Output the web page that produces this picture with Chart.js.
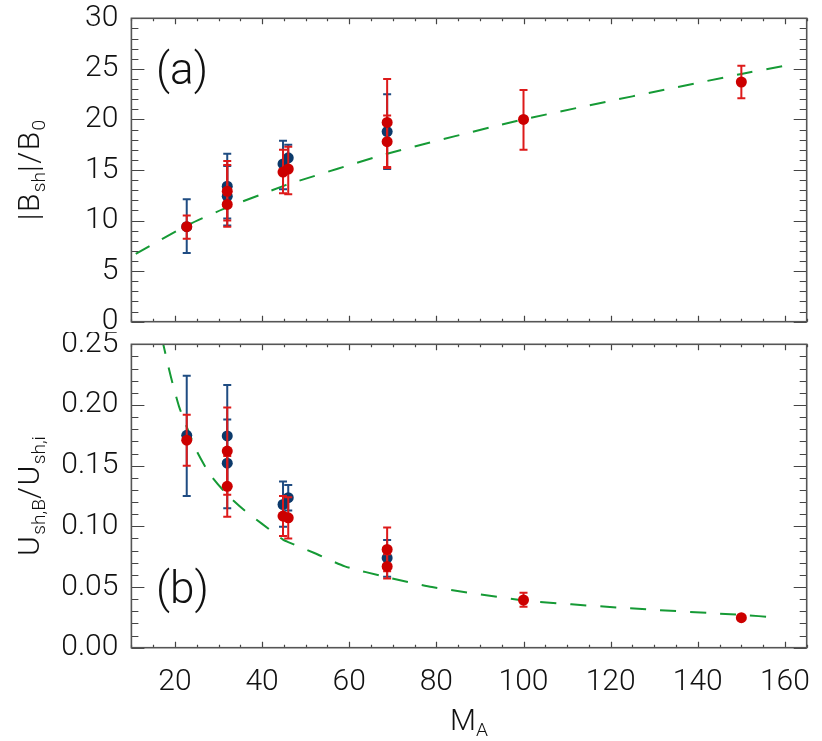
<!DOCTYPE html>
<html>
<head>
<meta charset="UTF-8">
<title>B_sh and U_sh vs M_A</title>
<script src="https://cdn.jsdelivr.net/npm/chart.js"></script>
<style>
  body { margin: 0; background: #fff; }
  #wrap { position: relative; width: 822px; height: 741px; }
  canvas { position: absolute; left: 0; }
  .txt {
    position: absolute;
    font-family: Roboto, 'DejaVu Sans', sans-serif;
    font-weight: 300;
    color: #111;
    white-space: nowrap;
    line-height: 1;
  }
  .txt sub { font-size: 0.64em; vertical-align: -0.3em; letter-spacing: 0; }
  .ytitle { font-size: 30px; letter-spacing: 1.5px; transform: translate(-50%, -50%) rotate(-90deg); }
  .panel { font-size: 44px; transform: translateY(-50%); }
</style>
</head>
<body>
<div id="wrap">
  <canvas id="topChart" width="822" height="332" style="top:0"></canvas>
  <canvas id="botChart" width="822" height="409" style="top:332px"></canvas>
  <div class="txt panel" style="left:156px; top:69px">(a)</div>
  <div class="txt panel" style="left:156px; top:588px">(b)</div>
  <div class="txt ytitle" style="left:31px; top:170px">|B<sub>sh</sub>|/B<sub>0</sub></div>
  <div class="txt ytitle" style="left:31px; top:496px">U<sub>sh,B</sub>/U<sub>sh,i</sub></div>
  <div class="txt" style="left:469px; top:722px; font-size:30px; transform:translate(-50%,-50%)">M<sub>A</sub></div>
</div>
<script>
// x axis (shared)
const xTicks = [20, 40, 60, 80, 100, 120, 140, 160];

// panel (a): |B_sh|/B_0
const topTicks = [0, 5, 10, 15, 20, 25, 30];
const topBlueX  = [22.7, 32.0, 32.0, 44.8, 46.0, 68.7];
const topBlueY  = [9.4, 13.4, 12.4, 15.6, 16.2, 18.8];
const topBlueLo = [6.8, 10.2, 9.5, 13.1, 14.9, 15.1];
const topBlueHi = [12.1, 16.6, 15.4, 17.9, 17.5, 22.5];
const topRedX  = [22.7, 32.0, 32.0, 44.8, 46.0, 68.7, 68.7, 100, 150];
const topRedY  = [9.4, 12.9, 11.6, 14.8, 15.1, 19.7, 17.8, 20.0, 23.7];
const topRedLo = [8.2, 10.0, 9.4, 12.7, 12.6, 15.3, 15.2, 17.0, 22.1];
const topRedHi = [10.5, 15.9, 15.5, 17.0, 17.3, 24.0, 20.4, 22.9, 25.3];
const topFitX = [11, 22.7, 32, 44.8, 46, 68.7, 100, 150, 160];
const topFitY = [6.7, 9.5, 11.3, 13.4, 13.6, 16.6, 20.0, 24.5, 25.3];

// panel (b): U_sh,B/U_sh,i
const botTicks  = [0, 0.05, 0.10, 0.15, 0.20, 0.25];
const botLabels = ['0.00', '0.05', '0.10', '0.15', '0.20', '0.25'];
const botBlueX  = [22.7, 32.0, 32.0, 44.8, 46.0, 68.7];
const botBlueY  = [0.175, 0.1745, 0.152, 0.118, 0.1236, 0.074];
const botBlueLo = [0.125, 0.132, 0.115, 0.0997, 0.113, 0.0585];
const botBlueHi = [0.224, 0.2165, 0.188, 0.137, 0.134, 0.0887];
const botRedX  = [22.7, 32.0, 32.0, 44.8, 46.0, 68.7, 68.7, 100, 150];
const botRedY  = [0.171, 0.162, 0.133, 0.1085, 0.107, 0.081, 0.067, 0.0393, 0.0247];
const botRedLo = [0.150, 0.126, 0.108, 0.092, 0.090, 0.063, 0.057, 0.0338, 0.0235];
const botRedHi = [0.192, 0.198, 0.158, 0.125, 0.124, 0.099, 0.077, 0.0453, 0.026];
const botFitX = [17, 19, 21, 22.7, 25, 28, 32, 36, 40, 44.8, 46, 52, 59, 68.7, 79, 100, 122, 150, 158];
const botFitY = [0.255, 0.224, 0.198, 0.182, 0.162, 0.143, 0.126, 0.113, 0.102, 0.089, 0.087, 0.078, 0.067, 0.058, 0.050, 0.039, 0.033, 0.027, 0.025];

const RED = '#cc0000', RED_ERR = '#dd1a1a';
const BLUE = '#0c3a6b', BLUE_ERR = '#1f4c82';
const GREEN = '#159a35';
const tickFont = { family: "Roboto, 'DejaVu Sans', sans-serif", size: 30, weight: '300' };

function pts(xs, ys) { return xs.map((x, i) => ({ x: x, y: ys[i] })); }

// error bars drawn just before each dataset's markers
const errorBars = {
  id: 'errorBars',
  beforeDatasetDraw(chart, args) {
    const ds = chart.data.datasets[args.index];
    if (!ds.errLo) return;
    const { ctx, scales: { x, y } } = chart;
    ctx.save();
    ctx.strokeStyle = ds.errColor;
    ctx.lineWidth = 2;
    ds.data.forEach((p, i) => {
      const px = x.getPixelForValue(p.x);
      const y1 = y.getPixelForValue(ds.errLo[i]);
      const y2 = y.getPixelForValue(ds.errHi[i]);
      ctx.beginPath();
      ctx.moveTo(px, y1); ctx.lineTo(px, y2);
      ctx.moveTo(px - 4, y1); ctx.lineTo(px + 4, y1);
      ctx.moveTo(px - 4, y2); ctx.lineTo(px + 4, y2);
      ctx.stroke();
    });
    ctx.restore();
  }
};

// box frame with inward ticks on all four sides
const frameTicks = {
  id: 'frameTicks',
  afterDraw(chart, args, opts) {
    const { ctx, chartArea: a, scales: { x, y } } = chart;
    ctx.save();
    ctx.strokeStyle = '#444';
    ctx.lineWidth = 1.2;
    ctx.beginPath();
    for (let v = 10; v <= x.max + 0.01; v += 5) {
      const px = Math.round(x.getPixelForValue(v)) + 0.5;
      const L = v % 20 === 0 ? 6 : 3;
      ctx.moveTo(px, a.bottom); ctx.lineTo(px, a.bottom - L);
      ctx.moveTo(px, a.top); ctx.lineTo(px, a.top + L);
    }
    for (let i = 0; i <= opts.n; i++) {
      const py = Math.round(y.getPixelForValue(i * opts.minor)) + 0.5;
      const L = i % 5 === 0 ? 13 : 7;
      ctx.moveTo(a.left, py); ctx.lineTo(a.left + L, py);
      ctx.moveTo(a.right, py); ctx.lineTo(a.right - L, py);
    }
    ctx.stroke();
    ctx.strokeStyle = '#555';
    ctx.lineWidth = 1.6;
    ctx.strokeRect(a.left, a.top, a.width, a.height);
    ctx.restore();
  }
};

function makeChart(id, cfg) {
  const yScale = {
    min: cfg.yMin, max: cfg.yMax,
    grid: { display: false, drawTicks: false },
    border: { display: false },
    afterBuildTicks: s => { s.ticks = cfg.yTicks.map(v => ({ value: v })); },
    afterFit: s => { s.width = 131.4; s.paddingTop = 0; s.paddingBottom = 0; },
    ticks: {
      font: tickFont, color: '#111', padding: 13,
      callback: (v, i) => cfg.yLabels[i]
    }
  };
  const xScale = {
    type: 'linear', min: 10, max: 165,
    display: cfg.showX,
    grid: { display: false, drawTicks: false },
    border: { display: false },
    afterBuildTicks: s => { s.ticks = xTicks.map(v => ({ value: v })); },
    afterFit: s => { s.height = cfg.showX ? 93.3 : 0; s.paddingLeft = 0; s.paddingRight = 0; },
    ticks: { font: tickFont, color: '#111', padding: 17, autoSkip: false, maxRotation: 0 }
  };
  return new Chart(document.getElementById(id), {
    type: 'scatter',
    data: {
      datasets: [
        {
          data: pts(cfg.redX, cfg.redY), errLo: cfg.redLo, errHi: cfg.redHi, errColor: RED_ERR,
          backgroundColor: RED, borderColor: RED, pointRadius: 5.5, pointBorderWidth: 0, order: 1
        },
        {
          data: pts(cfg.blueX, cfg.blueY), errLo: cfg.blueLo, errHi: cfg.blueHi, errColor: BLUE_ERR,
          backgroundColor: BLUE, borderColor: BLUE, pointRadius: 5.5, pointBorderWidth: 0, order: 2
        },
        {
          type: 'line', data: pts(cfg.fitX, cfg.fitY), borderColor: GREEN, borderWidth: 2,
          borderDash: [16, 14], pointRadius: 0, tension: 0.2, fill: false, order: 3
        }
      ]
    },
    options: {
      responsive: false,
      animation: false,
      layout: { padding: cfg.padding },
      scales: { x: xScale, y: yScale },
      plugins: {
        legend: { display: false },
        tooltip: { enabled: false },
        frameTicks: { n: cfg.nMinor, minor: cfg.minorStep }
      }
    },
    plugins: [errorBars, frameTicks]
  });
}

makeChart('topChart', {
  yMin: 0, yMax: 30, yTicks: topTicks, yLabels: topTicks.map(String),
  nMinor: 30, minorStep: 1, showX: false,
  padding: { left: 0, right: 15.3, top: 18.3, bottom: 10.3 },
  redX: topRedX, redY: topRedY, redLo: topRedLo, redHi: topRedHi,
  blueX: topBlueX, blueY: topBlueY, blueLo: topBlueLo, blueHi: topBlueHi,
  fitX: topFitX, fitY: topFitY
});

makeChart('botChart', {
  yMin: 0, yMax: 0.25, yTicks: botTicks, yLabels: botLabels,
  nMinor: 25, minorStep: 0.01, showX: true,
  padding: { left: 0, right: 15.3, top: 12.3, bottom: 0 },
  redX: botRedX, redY: botRedY, redLo: botRedLo, redHi: botRedHi,
  blueX: botBlueX, blueY: botBlueY, blueLo: botBlueLo, blueHi: botBlueHi,
  fitX: botFitX, fitY: botFitY
});
</script>
</body>
</html>
